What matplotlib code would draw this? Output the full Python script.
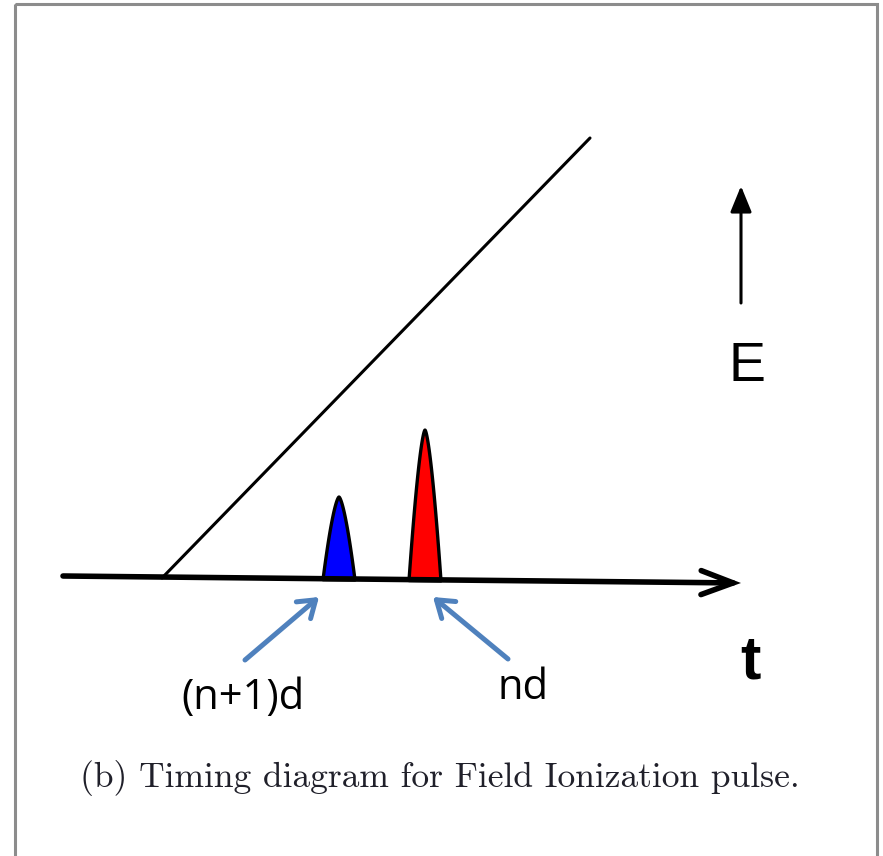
import numpy as np
import matplotlib.pyplot as plt
from matplotlib.patches import FancyArrowPatch, Polygon, Rectangle

# diagram drawn in image-pixel units (y grows downward)
W, H = 883, 856

# time axis (start, tip)
axis_x = [63, 741]
axis_y = [576, 583]

# field ramp
ramp_x = [162, 590]
ramp_y = [578, 138]

# ion pulses
pulse_centers = [339, 425]
pulse_half_widths = [16, 16]
pulse_peak_y = [497, 430]
pulse_colors = ['#0000ff', '#ff0000']

# E arrow
e_arrow_x = 741
e_arrow_y = [303, 186]

# pointer arrows (tail, head)
pointer_tails = [(245, 660), (508, 659)]
pointer_heads = [(319, 597), (433, 597)]
pointer_labels = ['(n+1)d', 'nd']
label_pos = [(243, 698), (523, 688)]

caption = '(b) Timing diagram for Field Ionization pulse.'

MS = 10
PX = 0.72 / MS  # arrow head sizes below are given in pixels


def base_y(x):
    return axis_y[0] + (axis_y[1] - axis_y[0]) * (x - axis_x[0]) / (axis_x[1] - axis_x[0])


fig = plt.figure(figsize=(W / 100, H / 100), dpi=100)
ax = fig.add_axes([0, 0, 1, 1])
ax.set_xlim(0, W)
ax.set_ylim(H, 0)
ax.axis('off')

# grey frame
ax.add_patch(Rectangle((15, 4), 862, 900, fill=False, edgecolor='#8c8c8c', lw=2.2))

# ramp
ax.plot(ramp_x, ramp_y, color='black', lw=2.2, solid_capstyle='round')

# pulses
for c, hw, py, col in zip(pulse_centers, pulse_half_widths, pulse_peak_y, pulse_colors):
    u = np.linspace(-1, 1, 120)
    prof = 1 - np.abs(u) ** 1.5
    xs = c + hw * u
    b = base_y(xs) + 1
    ys = b - (b - py) * prof
    ax.add_patch(Polygon(np.column_stack([xs, ys]), closed=True, facecolor=col,
                         edgecolor='black', lw=2.4, joinstyle='round'))

# time axis
ax.add_patch(FancyArrowPatch((axis_x[0], axis_y[0]), (axis_x[1], axis_y[1]),
                             arrowstyle=f'->,head_length={32 * PX},head_width={12 * PX}',
                             mutation_scale=MS, color='black', lw=4, shrinkA=0, shrinkB=0,
                             joinstyle='miter'))

# E arrow
ax.add_patch(FancyArrowPatch((e_arrow_x, e_arrow_y[0]), (e_arrow_x, e_arrow_y[1]),
                             arrowstyle=f'-|>,head_length={22 * PX},head_width={9 * PX}',
                             mutation_scale=MS, color='black', lw=2.2, shrinkA=0, shrinkB=0))

ax.text(747, 367, 'E', fontsize=40, family='Liberation Sans', ha='center', va='center')
ax.text(750, 663, 't', fontsize=44, family='Liberation Sans', fontweight='bold',
        ha='center', va='center')

for (tx, ty), (hx, hy) in zip(pointer_tails, pointer_heads):
    ax.add_patch(FancyArrowPatch((tx, ty), (hx, hy),
                                 arrowstyle=f'->,head_length={16 * PX},head_width={11 * PX}',
                                 mutation_scale=MS, color='#4f81bd', lw=3.6, shrinkA=0, shrinkB=0,
                                 capstyle='round', joinstyle='round'))

for lab, (lx, ly) in zip(pointer_labels, label_pos):
    ax.text(lx, ly, lab, fontsize=30, family='Open Sans', ha='center', va='center')

ax.text(440, 787, caption, fontsize=25.5, family='cmr10', ha='center', va='baseline',
        color='#20202a')

fig.savefig('out.png', dpi=100)
